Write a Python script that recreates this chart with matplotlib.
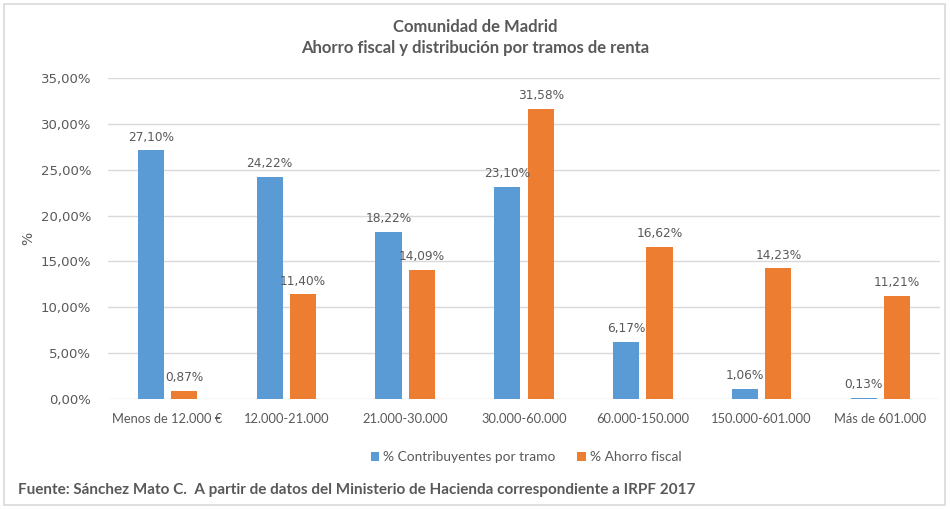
import numpy as np
import matplotlib.pyplot as plt
from matplotlib.patches import Rectangle

# data
tramos = ["Menos de 12.000 €", "12.000-21.000", "21.000-30.000", "30.000-60.000",
          "60.000-150.000", "150.000-601.000", "Más de 601.000"]
contribuyentes = [27.10, 24.22, 18.22, 23.10, 6.17, 1.06, 0.13]
ahorro = [0.87, 11.40, 14.09, 31.58, 16.62, 14.23, 11.21]
series_names = ["% Contribuyentes por tramo", "% Ahorro fiscal"]
yticks = np.arange(0, 36, 5)

azul = "#5B9BD5"
naranja = "#ED7D31"
gris = "#595959"
narrow = ["Lato", "DejaVu Sans"]


def pct(v):
    return "{:.2f}%".format(v).replace(".", ",")


fig = plt.figure(figsize=(9.5, 5.09), dpi=100)
fig.patches.append(Rectangle((4 / 950, 4 / 509), 941 / 950, 501 / 509,
                             transform=fig.transFigure, fill=False,
                             edgecolor="#D9D9D9", lw=1.2))
ax = fig.add_axes([108 / 950, 1 - 399 / 509, 832 / 950, 321 / 509])

x = np.arange(len(tramos))
w = 0.22
off = 0.14
b1 = ax.bar(x - off, contribuyentes, w, color=azul, label=series_names[0], zorder=3)
b2 = ax.bar(x + off, ahorro, w, color=naranja, label=series_names[1], zorder=3)

for bars, vals in [(b1, contribuyentes), (b2, ahorro)]:
    for r, v in zip(bars, vals):
        ax.annotate(pct(v), (r.get_x() + r.get_width() / 2, v),
                    xytext=(0, 5), textcoords="offset points",
                    ha="center", va="bottom", fontsize=8.7, color=gris, zorder=4)

ax.set_xlim(-0.5, len(tramos) - 0.5)
ax.set_ylim(0, 35)
ax.set_yticks(yticks)
ax.set_yticklabels([pct(v) for v in yticks], fontsize=9.5, color=gris)
ax.set_xticks(x)
ax.set_xticklabels(tramos, family=narrow, fontsize=9.3, color=gris)
ax.tick_params(length=0, pad=10)
ax.tick_params(axis="y", pad=12)
ax.grid(axis="y", color="#D9D9D9", lw=1, zorder=0)
for s in ax.spines.values():
    s.set_visible(False)
ax.set_ylabel("%", fontsize=10, color=gris)
ax.yaxis.set_label_coords(-0.088, 0.5)

fig.text(0.5, 1 - 27 / 509, "Comunidad de Madrid", ha="center", va="center",
         family=narrow, fontsize=12, fontweight="bold", color=gris)
fig.text(0.5, 1 - 48 / 509, "Ahorro fiscal y distribución por tramos de renta",
         ha="center", va="center", family=narrow, fontsize=12,
         fontweight="bold", color=gris)

fig.legend(handles=[b1, b2], loc="center", bbox_to_anchor=(526 / 950, 1 - 457 / 509),
           ncol=2, frameon=False, handlelength=0.6, handleheight=0.6,
           handletextpad=0.3, columnspacing=1.6,
           prop={"family": narrow, "size": 9.9}, labelcolor=gris)

fig.text(18 / 950, 1 - 490 / 509,
         "Fuente: Sánchez Mato C.  A partir de datos del Ministerio de Hacienda correspondiente a IRPF 2017",
         ha="left", va="center", family=narrow, fontsize=11, fontweight="bold",
         color=gris)

fig.savefig("out.png", dpi=100)
